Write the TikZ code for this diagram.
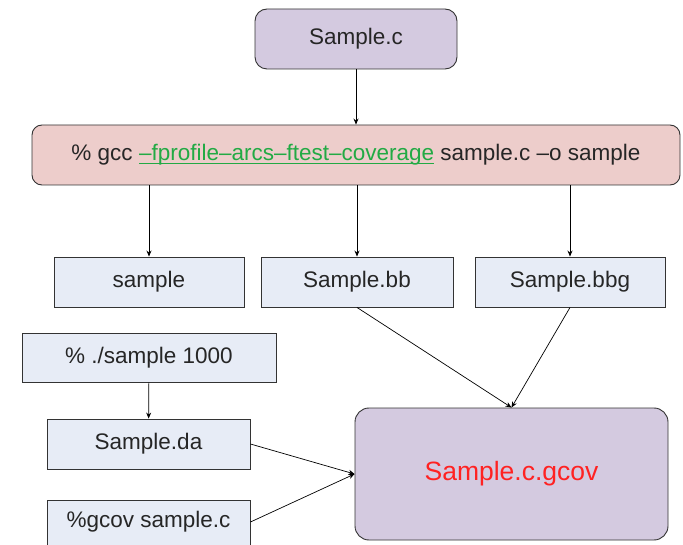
\documentclass[tikz,border=0pt]{standalone}
\usepackage{fontspec}
\setmainfont{Liberation Sans}
\usetikzlibrary{arrows.meta}
\definecolor{srcfill}{HTML}{D4CAE0}
\definecolor{cmdfill}{HTML}{EDCDCB}
\definecolor{filefill}{HTML}{E7ECF6}
\definecolor{edgegray}{HTML}{333333}
\definecolor{optgreen}{HTML}{22AA44}
\definecolor{outred}{HTML}{FF2222}
\tikzset{
  base/.style={draw=edgegray, line width=0.9pt, font=\fontsize{22.5}{26}\selectfont, text=black!85, inner sep=0pt},
  srcbox/.style={base, fill=srcfill, rounded corners=12pt},
  cmdbox/.style={base, fill=cmdfill, rounded corners=10pt},
  filebox/.style={base, fill=filefill},
  resultbox/.style={base, fill=srcfill, rounded corners=14pt, font=\fontsize{26.5}{30}\selectfont},
  flow/.style={draw=black, line width=0.7pt, -{Stealth[length=6pt,width=5pt]}}
}
% close underline for the compiler options
\newsavebox\optbox
\newcommand{\optline}[1]{\sbox\optbox{#1}\rlap{\rule[-2.5pt]{\wd\optbox}{0.8pt}}\usebox\optbox}
\begin{document}
\begin{tikzpicture}[x=1pt,y=-1pt]
  \useasboundingbox[fill=white] (0,0) rectangle (683,545);
  \clip (0,0) rectangle (683,545);

  \node[srcbox, minimum width=202, minimum height=60] (src) at (356,39) {Sample.c};
  \node[cmdbox, minimum width=648, minimum height=60] (gcc) at (356,155)
    {\% gcc {\color{optgreen}\optline{–fprofile–arcs–ftest–coverage}} sample.c –o sample};

  \node[filebox, minimum width=190, minimum height=50] (exe) at (149,282) {sample};
  \node[filebox, minimum width=192, minimum height=50] (bb) at (357,282) {Sample.bb};
  \node[filebox, minimum width=190, minimum height=50] (bbg) at (570,282) {Sample.bbg};

  \node[filebox, minimum width=254, minimum height=49] (run) at (149,357.5) {\% ./sample 1000};
  \node[filebox, minimum width=203, minimum height=50] (da) at (148.5,444) {Sample.da};
  \node[filebox, minimum width=203, minimum height=60, text depth=21pt] (gcovcmd) at (148.5,530) {\%gcov sample.c};

  \node[resultbox, minimum width=313, minimum height=132, text=outred] (out) at (511.5,474) {Sample.c.gcov};

  \draw[flow] (src) -- (gcc);
  \draw[flow] (gcc.south -| exe.north) -- (exe.north);
  \draw[flow] (gcc.south -| bb.north) -- (bb.north);
  \draw[flow] (gcc.south -| bbg.north) -- (bbg.north);
  \draw[flow] (run) -- (da);
  \draw[flow] (bb.south) -- (out.north);
  \draw[flow] (bbg.south) -- (out.north);
  \draw[flow] (da.east) -- (out.west);
  \draw[flow] (gcovcmd.east |- 0,522) -- (out.west);
\end{tikzpicture}
\end{document}
